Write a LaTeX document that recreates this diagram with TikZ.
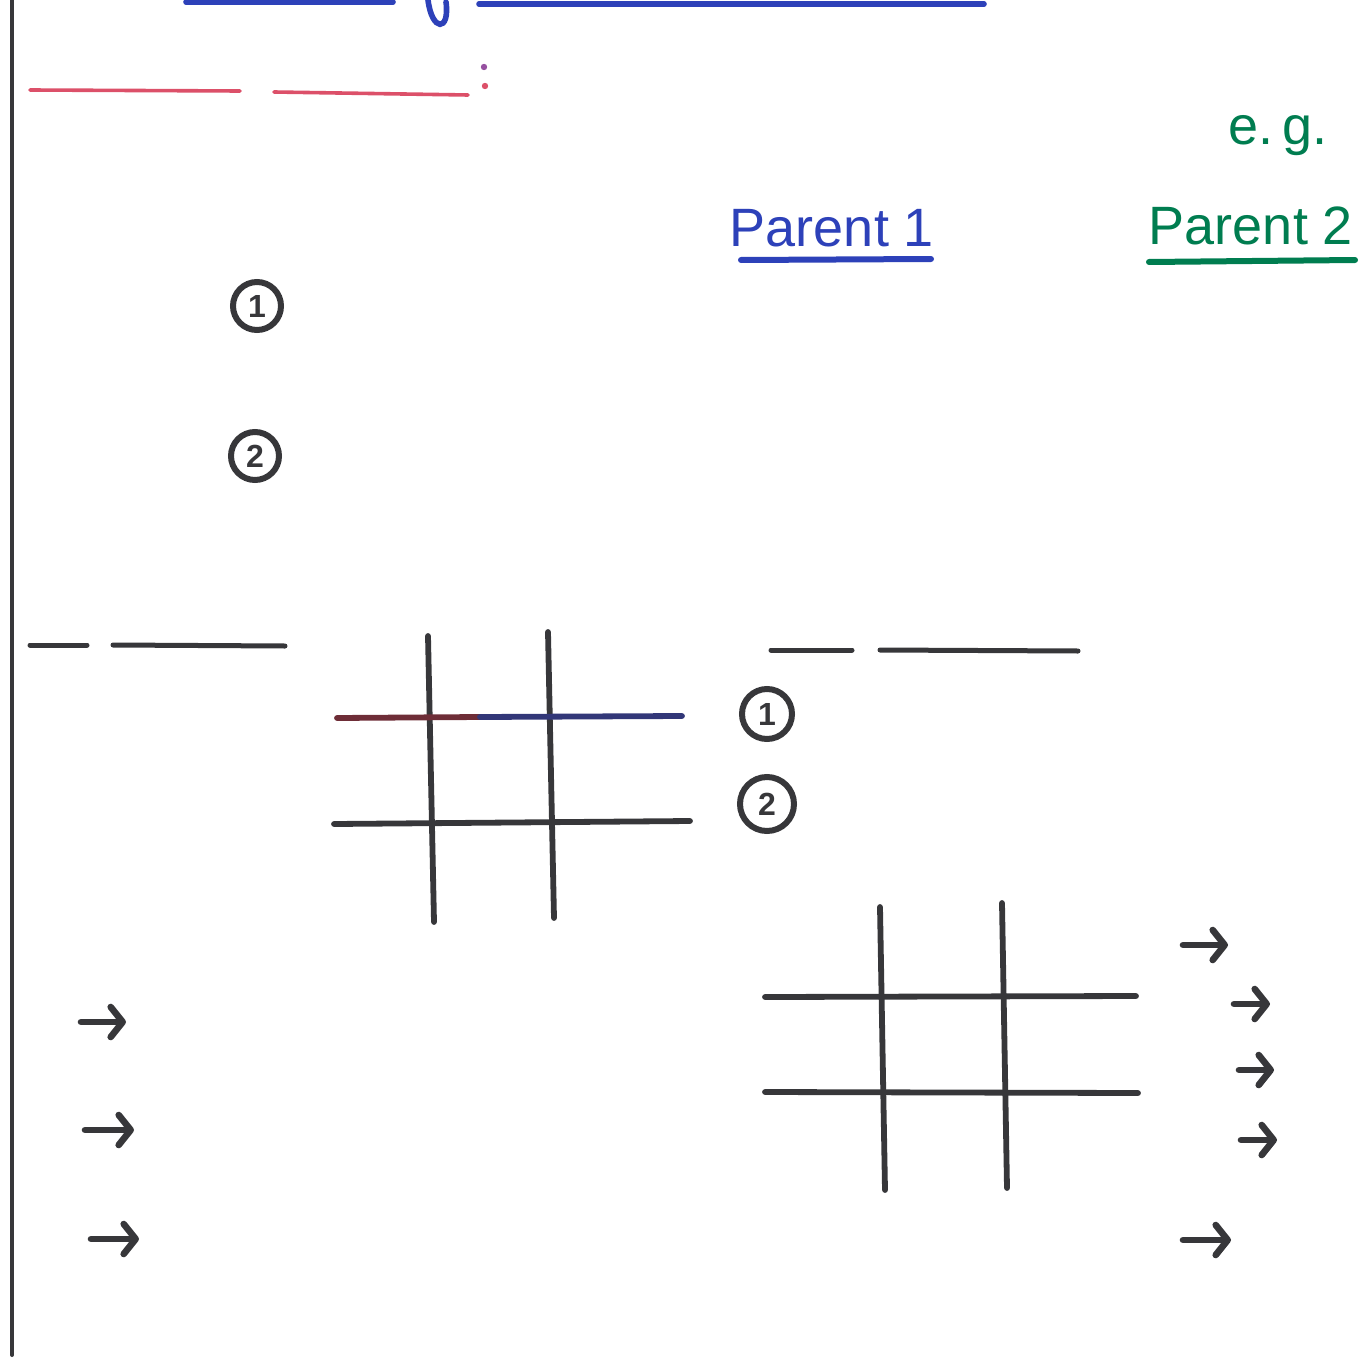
\documentclass[tikz,border=0pt]{standalone}
\usepackage{fontspec}
\setmainfont{Liberation Sans}
\usetikzlibrary{arrows.meta}
\definecolor{pen}{RGB}{55,55,58}
\definecolor{penblue}{RGB}{45,65,185}
\definecolor{pengreen}{RGB}{0,125,80}
\definecolor{penred}{RGB}{220,80,105}
\definecolor{penpurple}{RGB}{150,80,160}
\definecolor{darkred}{RGB}{110,45,55}
\definecolor{darkblue}{RGB}{50,55,120}
\tikzset{
  margin/.style={line width=2pt, line cap=round, pen},
  stroke/.style={line width=2.5pt, line cap=round, pen},
  grid/.style={line width=2.9pt, line cap=round, pen},
  num/.style={circle, draw=pen, line width=3pt, inner sep=0pt, minimum size=24pt, font=\fontsize{16}{16}\selectfont\bfseries, text=pen},
  hand/.style={font=\fontsize{27}{27}\selectfont, inner sep=0pt},
  arr/.style={line width=3.3pt, line cap=round, pen, -{Straight Barb[length=6pt,width=15pt,round]}},
}
\begin{document}
\begin{tikzpicture}[x=0.5pt,y=-0.5pt]
\useasboundingbox (0,0) rectangle (1360,1359);
% margin line
\draw[margin] (12,0) -- (12,1355);
% top blue title strokes
\draw[line width=2.8pt, penblue, line cap=round] (186,2) -- (393,2);
\draw[line width=2.8pt, penblue, line cap=round] (428,0) .. controls (432,32) and (450,32) .. (446,2);
\draw[line width=2.8pt, penblue, line cap=round] (479,4) -- (984,4);
% red heading strokes
\draw[line width=1.8pt, penred, line cap=round] (30,90) -- (240,91);
\draw[line width=1.8pt, penred, line cap=round] (274,92) -- (468,95);
\fill[penpurple] (484,67) circle (3.2);
\fill[penred] (485,86) circle (3.2);
% e.g. and parents
\node[hand, text=pengreen] (eg) at (1278,136) {e.\,g.};
\node[hand, text=penblue] (p1) at (832,228) {Parent 1};
\node[hand, text=pengreen] (p2) at (1251,226) {Parent 2};
\draw[line width=3pt, penblue, line cap=round] (741,260) -- (931,259);
\draw[line width=3pt, pengreen, line cap=round] (1149,262) -- (1355,260);
% circled numbers, left
\node[num] (c1) at (257,306) {1};
\node[num] (c2) at (255,456) {2};
% underline strokes middle left
\draw[stroke] (30,645) -- (87,645);
\draw[stroke] (113,645) -- (285,646);
% grid 1
\draw[grid] (428,636) -- (434,922);
\draw[grid] (548,632) -- (554,918);
\draw[grid, darkred] (337,718) -- (480,717);
\draw[grid, darkblue] (480,717) -- (682,716);
\draw[grid] (334,824) -- (690,821);
% underline strokes middle right
\draw[stroke] (771,650) -- (852,650);
\draw[stroke] (880,650) -- (1078,651);
% circled numbers, right
\node[num, minimum size=25pt] (c3) at (767,714) {1};
\node[num, minimum size=27pt] (c4) at (767,804) {2};
% grid 2
\draw[grid] (880,907) -- (885,1190);
\draw[grid] (1002,903) -- (1007,1188);
\draw[grid] (765,997) -- (1136,996);
\draw[grid] (765,1092) -- (1138,1093);
% arrows right
\coordinate (r1a) at (1183,945); \coordinate (r1b) at (1228,945);
\coordinate (r2a) at (1234,1004); \coordinate (r2b) at (1270,1004);
\coordinate (r3a) at (1239,1070); \coordinate (r3b) at (1274,1070);
\coordinate (r4a) at (1241,1140); \coordinate (r4b) at (1277,1140);
\coordinate (r5a) at (1183,1240); \coordinate (r5b) at (1231,1240);
\foreach \i in {1,...,5} \draw[arr] (r\i a) -- (r\i b);
% arrows left
\coordinate (l1a) at (81,1022); \coordinate (l1b) at (126,1022);
\coordinate (l2a) at (85,1130); \coordinate (l2b) at (134,1130);
\coordinate (l3a) at (91,1239); \coordinate (l3b) at (139,1239);
\foreach \i in {1,2,3} \draw[arr] (l\i a) -- (l\i b);
\end{tikzpicture}
\end{document}
